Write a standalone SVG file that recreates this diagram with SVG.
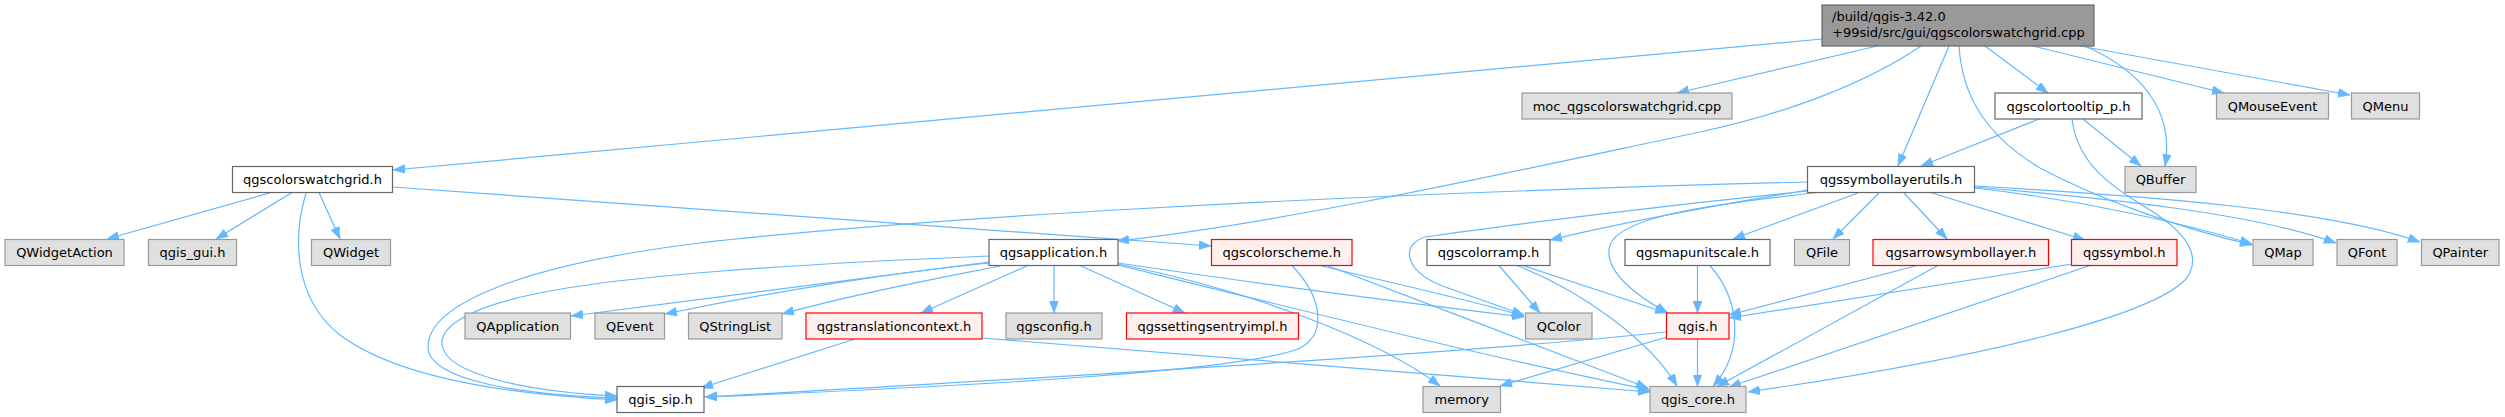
<svg xmlns="http://www.w3.org/2000/svg" width="2505" height="417" viewBox="0 0 2505 417">
<style>
.e path{fill:none;stroke:#63b8ff;stroke-width:1.2;marker-end:url(#ah)}
.w{fill:#ffffff;stroke:#666666;stroke-width:1.2}
.g{fill:#e0e0e0;stroke:#999999;stroke-width:1.2}
.r{fill:#fff0f0;stroke:#ff0000;stroke-width:1.2}
.root{fill:#999999;stroke:#666666;stroke-width:1.2}
text{font-family:"DejaVu Sans","Liberation Sans",sans-serif;font-size:13px;fill:#000000;text-anchor:middle}
text.l{text-anchor:start}
</style>
<defs>
<marker id="ah" markerUnits="userSpaceOnUse" markerWidth="13" markerHeight="10" refX="12" refY="4.5" orient="auto">
<path d="M0,0 L12,4.5 L0,9 z" fill="#63b8ff" stroke="#63b8ff" stroke-width="0.5"/>
</marker>
</defs>
<rect width="2505" height="417" fill="#ffffff"/>
<g id="edges" class="e">
<path d="M1822,39 L393,170"/>
<path d="M1877,46 L1677,93"/>
<path d="M1921,46 C1862,86 1780,115 1700,132 C1520,170 1290,222 1117,241"/>
<path d="M1949,46 L1898,166"/>
<path d="M1985,46 L2048,93"/>
<path d="M2033,46 L2224,93"/>
<path d="M2080,46 L2350,95"/>
<path d="M2085,46 C2140,70 2175,110 2165,166"/>
<path d="M1959,46 C1962,95 1985,135 2040,168 C2100,200 2180,228 2252,245"/>
<path d="M2072,119 C2078,165 2110,185 2150,210 C2195,238 2200,262 2185,280 C2150,315 2000,355 1748,392"/>
<path d="M2039,119 L1921,166"/>
<path d="M2083,119 L2141,166"/>
<path d="M1975,188 C2080,200 2180,222 2252,244"/>
<path d="M1975,187 C2100,198 2250,212 2336,243"/>
<path d="M1975,186 C2150,196 2330,210 2420,242"/>
<path d="M1929,192 L2085,240"/>
<path d="M1904,193 L1947,239"/>
<path d="M1879,193 L1833,239"/>
<path d="M1858,193 L1733,239"/>
<path d="M1823,192 C1700,205 1620,218 1610,245 C1602,272 1640,298 1668,313"/>
<path d="M1808,190 C1700,208 1600,228 1550,240"/>
<path d="M1808,191 C1650,207 1500,226 1425,237 C1400,245 1405,270 1440,285 C1475,298 1505,308 1524,315"/>
<path d="M1807,182 C1300,195 900,220 700,243 C520,265 428,305 428,347 C428,380 520,395 617,398"/>
<path d="M271,192.5 L107,239"/>
<path d="M292,192.5 L216,239"/>
<path d="M319,192.5 L340,239"/>
<path d="M392.5,187 L1211,246"/>
<path d="M306,193 C292,240 295,300 340,335 C400,380 520,395 617,400"/>
<path d="M989,262 L571,316"/>
<path d="M989,263 C900,272 780,290 665,314"/>
<path d="M1002,265.5 C930,280 850,295 782,314"/>
<path d="M1028,265.5 L921,313"/>
<path d="M1054,265.5 L1054,313"/>
<path d="M1080,265.5 L1185,313"/>
<path d="M1118,263 C1300,290 1450,308 1524,317"/>
<path d="M1118,265 C1300,310 1500,360 1650,390"/>
<path d="M1118,264 C1250,290 1380,340 1440,386"/>
<path d="M989,256 C800,264 620,275 530,295 C460,310 440,330 442,345 C446,375 530,392 617,396"/>
<path d="M1320,265.5 C1400,285 1470,300 1524,316"/>
<path d="M1327,265.5 C1420,300 1560,355 1648,388"/>
<path d="M1292,265.5 C1325,300 1325,335 1300,348 C1250,370 1000,385 705,397"/>
<path d="M855,339 L701,388"/>
<path d="M982,338 L1650,392"/>
<path d="M1499,265.5 L1540,313"/>
<path d="M1523,265.5 L1667,313"/>
<path d="M1517,265.5 C1580,290 1650,340 1677,386"/>
<path d="M1697.5,265.5 L1697.5,313"/>
<path d="M1710,265.5 C1740,300 1745,350 1713,386.5"/>
<path d="M1697.5,339 L1697.5,386.5"/>
<path d="M1667,337 L1500,386"/>
<path d="M1666,332 C1500,350 1100,375 705,397"/>
<path d="M1917,265.5 L1729,315"/>
<path d="M1938,265.5 L1717,386.5"/>
<path d="M2072,264 L1729,318"/>
<path d="M2090,265.5 L1729,387"/>
</g>
<g id="node-root"><rect class="root" x="1822" y="5" width="272" height="41"/><text class="l" x="1832" y="20.5">/build/qgis-3.42.0</text><text class="l" x="1832" y="37">+99sid/src/gui/qgscolorswatchgrid.cpp</text></g>
<g id="node-moc"><rect class="g" x="1522" y="93" width="210" height="26"/><text x="1627" y="110.5">moc_qgscolorswatchgrid.cpp</text></g>
<g id="node-tooltip"><rect class="w" x="1995" y="93" width="147" height="26"/><text x="2068.5" y="110.5">qgscolortooltip_p.h</text></g>
<g id="node-qmouseevent"><rect class="g" x="2216.5" y="93" width="112" height="26"/><text x="2272.5" y="110.5">QMouseEvent</text></g>
<g id="node-qmenu"><rect class="g" x="2351.5" y="93" width="68" height="26"/><text x="2385.5" y="110.5">QMenu</text></g>
<g id="node-swatchgrid"><rect class="w" x="232.5" y="166.5" width="160" height="26"/><text x="312.5" y="184">qgscolorswatchgrid.h</text></g>
<g id="node-symbollayerutils"><rect class="w" x="1807.5" y="166.5" width="167" height="26"/><text x="1891" y="184">qgssymbollayerutils.h</text></g>
<g id="node-qbuffer"><rect class="g" x="2125" y="166.5" width="71" height="26"/><text x="2160.5" y="184">QBuffer</text></g>
<g id="node-qwidgetaction"><rect class="g" x="5" y="239.5" width="119" height="26"/><text x="64.5" y="257">QWidgetAction</text></g>
<g id="node-qgisgui"><rect class="g" x="148.5" y="239.5" width="88" height="26"/><text x="192.5" y="257">qgis_gui.h</text></g>
<g id="node-qwidget"><rect class="g" x="311.5" y="239.5" width="79" height="26"/><text x="351" y="257">QWidget</text></g>
<g id="node-qgsapplication"><rect class="w" x="989" y="239.5" width="129" height="26"/><text x="1053.5" y="257">qgsapplication.h</text></g>
<g id="node-qgscolorscheme"><rect class="r" x="1211.5" y="239.5" width="140.5" height="26"/><text x="1281.75" y="257">qgscolorscheme.h</text></g>
<g id="node-qgscolorramp"><rect class="w" x="1427" y="239.5" width="123" height="26"/><text x="1488.5" y="257">qgscolorramp.h</text></g>
<g id="node-qgsmapunitscale"><rect class="w" x="1625" y="239.5" width="145" height="26"/><text x="1697.5" y="257">qgsmapunitscale.h</text></g>
<g id="node-qfile"><rect class="g" x="1794.5" y="239.5" width="55" height="26"/><text x="1822" y="257">QFile</text></g>
<g id="node-qgsarrowsymbollayer"><rect class="r" x="1873" y="239.5" width="175.5" height="26"/><text x="1960.75" y="257">qgsarrowsymbollayer.h</text></g>
<g id="node-qgssymbol"><rect class="r" x="2071.5" y="239.5" width="105.5" height="26"/><text x="2124.25" y="257">qgssymbol.h</text></g>
<g id="node-qmap"><rect class="g" x="2253" y="239.5" width="60" height="26"/><text x="2283" y="257">QMap</text></g>
<g id="node-qfont"><rect class="g" x="2337" y="239.5" width="60" height="26"/><text x="2367" y="257">QFont</text></g>
<g id="node-qpainter"><rect class="g" x="2421.5" y="239.5" width="77.5" height="26"/><text x="2460.25" y="257">QPainter</text></g>
<g id="node-qapplication"><rect class="g" x="465" y="313" width="105.5" height="26"/><text x="517.75" y="330.5">QApplication</text></g>
<g id="node-qevent"><rect class="g" x="595" y="313" width="69.5" height="26"/><text x="629.75" y="330.5">QEvent</text></g>
<g id="node-qstringlist"><rect class="g" x="688.5" y="313" width="93.5" height="26"/><text x="735.25" y="330.5">QStringList</text></g>
<g id="node-qgstranslationcontext"><rect class="r" x="806" y="313" width="176" height="26"/><text x="894" y="330.5">qgstranslationcontext.h</text></g>
<g id="node-qgsconfig"><rect class="g" x="1006" y="313" width="96" height="26"/><text x="1054" y="330.5">qgsconfig.h</text></g>
<g id="node-qgssettingsentryimpl"><rect class="r" x="1126.5" y="313" width="172" height="26"/><text x="1212.5" y="330.5">qgssettingsentryimpl.h</text></g>
<g id="node-qcolor"><rect class="g" x="1525.5" y="313" width="66.5" height="26"/><text x="1558.75" y="330.5">QColor</text></g>
<g id="node-qgis"><rect class="r" x="1666.5" y="313" width="62.5" height="26"/><text x="1697.75" y="330.5">qgis.h</text></g>
<g id="node-qgissip"><rect class="w" x="617" y="386.5" width="87" height="26"/><text x="660.5" y="404">qgis_sip.h</text></g>
<g id="node-memory"><rect class="g" x="1423" y="386.5" width="77.5" height="26"/><text x="1461.75" y="404">memory</text></g>
<g id="node-qgiscore"><rect class="g" x="1650" y="386.5" width="96" height="26"/><text x="1698" y="404">qgis_core.h</text></g>
</svg>
